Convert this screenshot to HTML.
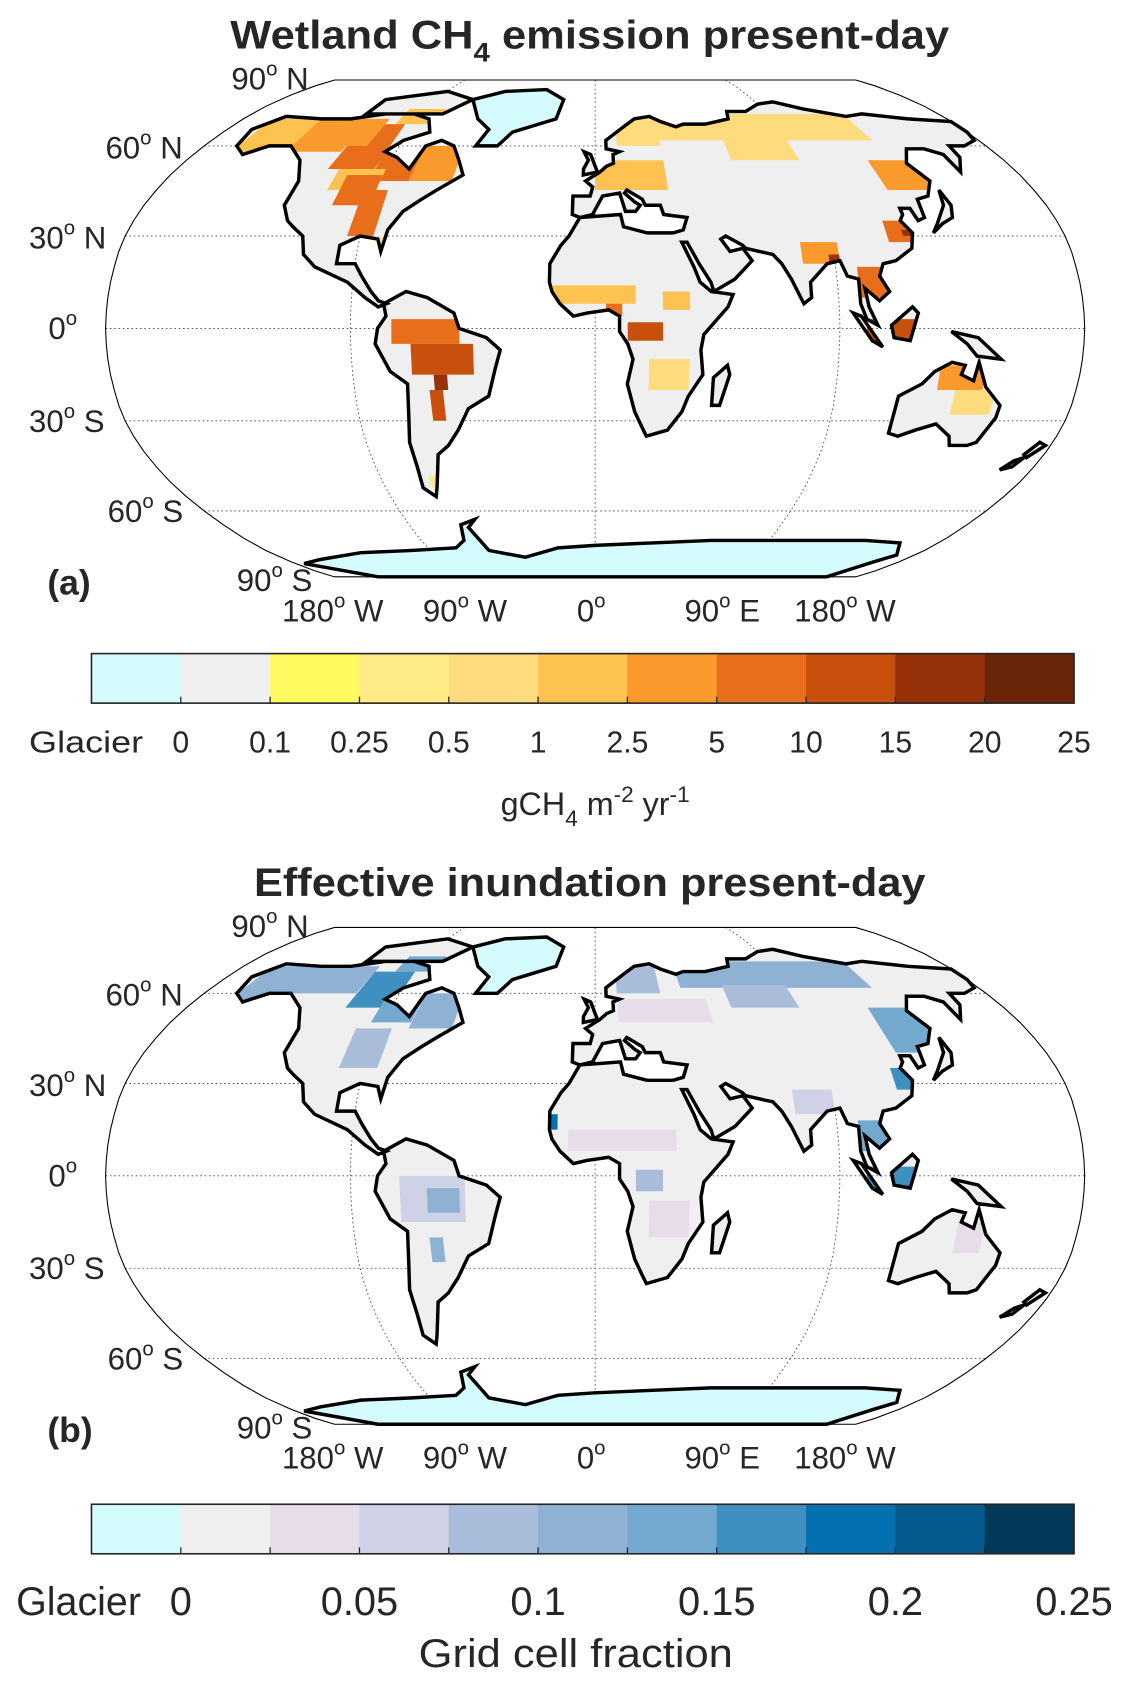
<!DOCTYPE html>
<html><head><meta charset="utf-8">
<style>
html,body{margin:0;padding:0;background:#fff;}
svg{display:block;}
text{font-family:"Liberation Sans",sans-serif;fill:#262626;}
</style></head>
<body>
<svg id="fig" width="1130" height="1683" viewBox="0 0 1050 1563" preserveAspectRatio="none">
  <g>
    <text x="548" y="45" text-anchor="middle" font-size="37" font-weight="bold" fill="#000" textLength="668" lengthAdjust="spacingAndGlyphs">Wetland CH<tspan font-size="25" dy="12">4</tspan><tspan dy="-12"> emission present-day</tspan></text>
    <text x="44" y="552" font-size="33" font-weight="bold" fill="#000">(a)</text>
  </g>
  <g id="panelA"></g>
  <g id="cbarA"></g>
  <text x="553" y="757" text-anchor="middle" font-size="30">gCH<tspan font-size="21" dy="10">4</tspan><tspan dy="-10"> m</tspan><tspan font-size="21" dy="-12">-2</tspan><tspan dy="12"> yr</tspan><tspan font-size="21" dy="-12">-1</tspan></text>

  <g>
    <text x="548" y="832" text-anchor="middle" font-size="37" font-weight="bold" fill="#000" textLength="624" lengthAdjust="spacingAndGlyphs">Effective inundation present-day</text>
    <text x="44" y="1339" font-size="33" font-weight="bold" fill="#000">(b)</text>
  </g>
  <g id="panelB"></g>
  <g id="cbarB"></g>
  <text x="535" y="1548" text-anchor="middle" font-size="37" textLength="292" lengthAdjust="spacingAndGlyphs">Grid cell fraction</text>
</svg>
<script>
// ---------- data ----------
const paletteA = ["#d4fbfd","#efefef","#fefa5f","#feeb85","#fedb7d","#fec250","#fb9a2c","#e86e1c","#c8500c","#973109","#6a2509"];
const paletteB = ["#d4fbfd","#efefef","#e6dcea","#cfd1e6","#a9bddb","#8fb2d4","#74a9cf","#3f8fc0","#0570b0","#045a8d","#023858"];
const ticksA = ["0","0.1","0.25","0.5","1","2.5","5","10","15","20","25"];
const ticksB = ["0","","0.05","","0.1","","0.15","","0.2","","0.25"];

// wetland emission regions (lon0, lon1, lat0, lat1, colour level)
const aLon0 = [-165,-140,-115,-95,-78,-110,-95,-82,-100,30,60,10,0,120,112,118,78,88,98,100,-17,4,25,12,20,-75,-68,-60,-62,-70,128,135,-125,-105];
const aLon1 = [-140,-115,-95,-78,-60,-90,-85,-80,-80,130,90,30,30,145,122,122,92,92,108,118,15,10,35,25,35,-50,-45,-55,-57,-66,145,150,-105,-90];
const aLat0 = [58,58,52,48,48,45,30,25,68,62,55,60,45,45,28,30,21,21,10,-5,8,4,6,-4,-20,-5,-15,-20,-30,-52,-20,-28,60,40];
const aLat1 = [70,70,68,60,60,52,45,30,74,72,63,70,55,55,35,32,28,24,20,3,14,8,12,2,-10,3,-5,-15,-20,-48,-12,-20,70,50];
const aLevel = [5,6,7,7,6,5,7,3,5,4,4,4,5,6,7,9,6,9,7,8,5,7,5,8,4,7,8,9,8,3,6,4,6,7];

// inundation regions
const bLon0 = [-165,-140,-110,-95,-78,-100,-100,40,60,10,10,120,115,75,98,100,-17,-10,15,-72,-62,-62,135,20];
const bLon1 = [-140,-110,-90,-78,-60,-80,-85,130,90,30,50,140,122,90,108,118,-14,30,25,-48,-50,-57,145,35];
const bLat0 = [58,60,55,50,48,68,35,62,55,60,50,40,28,20,8,-5,15,8,-5,-15,-12,-28,-25,-20];
const bLat1 = [70,70,68,58,60,74,48,72,63,70,58,55,35,28,18,3,20,15,2,0,-4,-20,-15,-8];
const bLevel = [5,5,7,6,5,6,4,5,4,4,2,6,7,3,6,7,8,2,4,3,5,5,2,2];

// ---------- land outlines (lon,lat) ----------
const land = [
 [[-168,66],[-160,71],[-140,70],[-125,70],[-110,72],[-95,72],[-85,70],[-80,65],[-90,62],[-95,58],[-88,56],[-80,52],[-78,60],[-72,62],[-65,60],[-60,55],[-56,50],[-65,45],[-70,42],[-76,38],[-80,32],[-81,25],[-83,29],[-90,30],[-97,27],[-97,21],[-90,21],[-87,17],[-83,12],[-80,9],[-77,8],[-80,7],[-85,10],[-92,15],[-105,20],[-110,24],[-112,30],[-117,33],[-120,35],[-124,40],[-124,48],[-130,55],[-140,60],[-150,60],[-158,57],[-165,60]],
 [[-120,72],[-80,72],[-70,78],[-90,82],[-120,78]],
 [[-78,8],[-70,12],[-62,10],[-52,5],[-50,0],[-40,-3],[-35,-7],[-37,-13],[-40,-22],[-48,-26],[-53,-33],[-58,-38],[-63,-41],[-65,-46],[-68,-52],[-70,-55],[-74,-52],[-73,-45],[-73,-37],[-71,-28],[-70,-18],[-76,-14],[-81,-5],[-80,0],[-77,4]],
 [[-17,21],[-13,27],[-10,30],[-6,36],[10,37],[11,33],[20,31],[30,31],[34,32],[36,36],[27,37],[26,40],[23,40],[20,40],[19,42],[13,45],[12,44],[16,41],[18,40],[16,38],[12,38],[10,44],[3,43],[-1,37],[-6,36],[-9,37],[-9,43],[-2,43],[-1,46],[-4,48],[2,51],[5,53],[8,54],[8,57],[11,58],[5,59],[5,62],[14,67],[20,70],[28,71],[33,69],[40,67],[44,68],[55,68],[68,70],[70,73],[80,73],[90,76],[100,77],[112,74],[130,71],[140,72],[160,70],[180,69],[180,65],[178,62],[170,60],[163,60],[162,56],[156,51],[156,57],[150,59],[142,59],[136,54],[140,48],[135,43],[130,42],[129,36],[126,35],[125,39],[121,39],[121,37],[119,35],[122,31],[120,26],[113,22],[108,21],[106,17],[109,12],[105,9],[100,13],[101,7],[104,1],[100,3],[98,8],[98,16],[94,17],[92,22],[87,21],[80,15],[80,10],[77,8],[73,16],[70,21],[67,24],[62,25],[57,26],[56,27],[50,30],[48,29],[51,25],[56,26],[59,22],[52,16],[44,12],[43,15],[39,21],[35,28],[33,28],[37,20],[39,15],[43,12],[51,11],[49,7],[40,-2],[39,-7],[40,-15],[35,-22],[33,-27],[28,-33],[20,-35],[18,-32],[15,-27],[12,-18],[14,-10],[12,-5],[9,-1],[9,4],[5,6],[-3,5],[-8,4],[-13,8],[-16,12],[-17,15]],
 [[44,-25],[47,-25],[50,-15],[49,-12],[44,-16]],
 [[130,31],[135,34],[140,36],[142,40],[141,45],[139,40],[133,34]],
 [[-5,50],[1,51],[0,53],[-2,57],[-5,58],[-3,55],[-5,52]],
 [[109,1],[117,7],[119,5],[116,-4],[110,-3]],
 [[95,5],[98,4],[106,-6],[102,-4]],
 [[131,-1],[141,-3],[150,-10],[141,-9],[137,-5]],
 [[114,-22],[114,-34],[118,-35],[124,-33],[131,-31],[138,-35],[140,-38],[147,-38],[150,-37],[153,-29],[153,-25],[146,-19],[142,-11],[141,-17],[136,-15],[137,-12],[132,-11],[126,-14],[122,-18]],
 [[172,-41],[175,-37],[178,-38],[174,-42]],
 [[167,-46],[171,-45],[173,-42],[170,-43]]
];
const glacier = [
 [[-55,60],[-45,60],[-40,65],[-20,70],[-18,78],[-30,83],[-55,82],[-70,78],[-60,70],[-52,66]],
 [[-150,-90],[160,-90],[165,-80],[170,-77],[160,-72],[140,-71],[100,-71],[60,-71],[30,-72],[0,-73],[-20,-74],[-40,-78],[-58,-75],[-62,-66],[-57,-63],[-65,-65],[-68,-71],[-75,-74],[-100,-75],[-130,-76],[-160,-79],[-175,-81]]
];

// ---------- Robinson projection ----------
const RX=[1.0000,0.9986,0.9954,0.9900,0.9822,0.9730,0.9600,0.9427,0.9216,0.8962,0.8679,0.8350,0.7986,0.7597,0.7186,0.6732,0.6213,0.5722,0.5322];
const RY=[0,0.0620,0.1240,0.1860,0.2480,0.3100,0.3720,0.4340,0.4958,0.5571,0.6176,0.6769,0.7346,0.7903,0.8435,0.8936,0.9394,0.9761,1.0000];
const CX=553, KX=144.8, KY=230.7;
function interp(t,a){const f=Math.min(Math.abs(t),90)/5;const i=Math.min(Math.floor(f),17);const r=f-i;return a[i]+(a[i+1]-a[i])*r;}
function proj(lon,lat,cy){
  return [CX+KX*interp(lat,RX)*lon*Math.PI/180, cy-Math.sign(lat)*KY*interp(lat,RY)];
}
const NS="http://www.w3.org/2000/svg";
function mk(tag,attrs,parent){const e=document.createElementNS(NS,tag);for(const k in attrs)e.setAttribute(k,attrs[k]);parent.appendChild(e);return e;}
function polyD(pts,cy){return pts.map((p,i)=>{const q=proj(p[0],p[1],cy);return (i?"L":"M")+q[0].toFixed(1)+","+q[1].toFixed(1);}).join("")+"Z";}
function boxD(l0,l1,b0,b1,cy){const pts=[];for(let l=l0;l<=l1;l+=(l1-l0)/4)pts.push([l,b1]);for(let l=l1;l>=l0;l-=(l1-l0)/4)pts.push([l,b0]);return polyD(pts,cy);}

function drawPanel(g,cy,id,pal,L0,L1,B0,B1,LV){
  let bd="";
  for(let la=90;la>=-90;la-=5){const q=proj(180,la,cy);bd+=(bd?"L":"M")+q[0]+","+q[1];}
  for(let la=-90;la<=90;la+=5){const q=proj(-180,la,cy);bd+="L"+q[0]+","+q[1];}
  bd+="Z";
  const cp=mk("clipPath",{id:"clip"+id},g);
  const landD=land.map(p=>polyD(p,cy)).join("");
  mk("path",{d:landD},cp);
  const grat=mk("g",{stroke:"#444","stroke-width":"0.8","stroke-dasharray":"1.5 2.5",fill:"none"},g);
  
  
  [-60,-30,0,30,60].forEach(la=>{const a=proj(-180,la,cy),b=proj(180,la,cy);mk("line",{x1:a[0],y1:a[1],x2:b[0],y2:b[1]},grat);});
  [-90,0,90].forEach(lo=>{let d="";for(let la=90;la>=-90;la-=5){const q=proj(lo,la,cy);d+=(d?"L":"M")+q[0]+","+q[1];}mk("path",{d:d},grat);});
  const lp=mk("path",{d:landD,fill:"#efefef",stroke:"none"},g);
  
  
  const wg=mk("g",{"clip-path":"url(#clip"+id+")"},g);
  
  
  for(let i=0;i<LV.length;i++){
    const r=mk("path",{d:boxD(L0[i],L1[i],B0[i],B1[i],cy),fill:pal[LV[i]]},wg);
    
    
  }
  const gp=mk("path",{d:glacier.map(p=>polyD(p,cy)).join(""),fill:pal[0],stroke:"#000","stroke-width":"3.2","stroke-linejoin":"miter"},g);
  
  
  const lo=mk("path",{d:landD,fill:"none",stroke:"#000","stroke-width":"3.2","stroke-linejoin":"miter"},g);
  
  
  const ob=mk("path",{d:bd,fill:"none",stroke:"#000","stroke-width":"1"},g);
  
  
  const latLab=[["90","N",215,cy-222],["60","N",98,cy-158],["30","N",27,cy-74],["0","",45,cy+10],["30","S",27,cy+96],["60","S",100,cy+180],["90","S",220,cy+244]];
  latLab.forEach(a=>{
    const t=mk("text",{x:a[2],y:a[3],"font-size":"29"},g);
    t.innerHTML=a[0]+'<tspan font-size="19" dy="-13">o</tspan><tspan dy="13">'+(a[1]?" "+a[1]:"")+'</tspan>';
    
    
  });
  const lonLab=[["180","W",262],["90","W",393],["0","",536],["90","E",636],["180","W",738]];
  lonLab.forEach(a=>{
    const t=mk("text",{x:a[2],y:cy+272,"font-size":"29"},g);
    t.innerHTML=a[0]+'<tspan font-size="19" dy="-13">o</tspan><tspan dy="13">'+(a[1]?" "+a[1]:"")+'</tspan>';
    
    
  });
}
function drawBar(g,y,pal,ticks,fs,ly,glx,glw){
  const x0=85,w=83;
  for(let i=0;i<pal.length;i++){
    const r=mk("rect",{x:x0+i*w,y:y,width:w+0.5,height:46,fill:pal[i]},g);
    
    
  }
  mk("rect",{x:x0,y:y,width:w*11,height:46,fill:"none",stroke:"#262626","stroke-width":"1.5"},g);
  for(let i=1;i<11;i++){mk("line",{x1:x0+i*w,y1:y+46,x2:x0+i*w,y2:y+40,stroke:"#262626","stroke-width":"1.2"},g);}
  const gl=mk("text",{x:glx,y:ly,"font-size":fs,textLength:glw,lengthAdjust:"spacingAndGlyphs"},g);
  gl.textContent="Glacier";
  
  
  ticks.forEach((t,i)=>{
    if(!t)return;
    const e=mk("text",{x:x0+(i+1)*w,y:ly,"font-size":fs,"text-anchor":"middle"},g);
    e.textContent=t;
    
    
  });
}
drawPanel(document.getElementById("panelA"),305,"A",paletteA,aLon0,aLon1,aLat0,aLat1,aLevel);
drawPanel(document.getElementById("panelB"),1092,"B",paletteB,bLon0,bLon1,bLat0,bLat1,bLevel);
drawBar(document.getElementById("cbarA"),607,paletteA,ticksA,28,699,27,106);
drawBar(document.getElementById("cbarB"),1397,paletteB,ticksB,37,1500,15,116);
</script>
</body></html>
